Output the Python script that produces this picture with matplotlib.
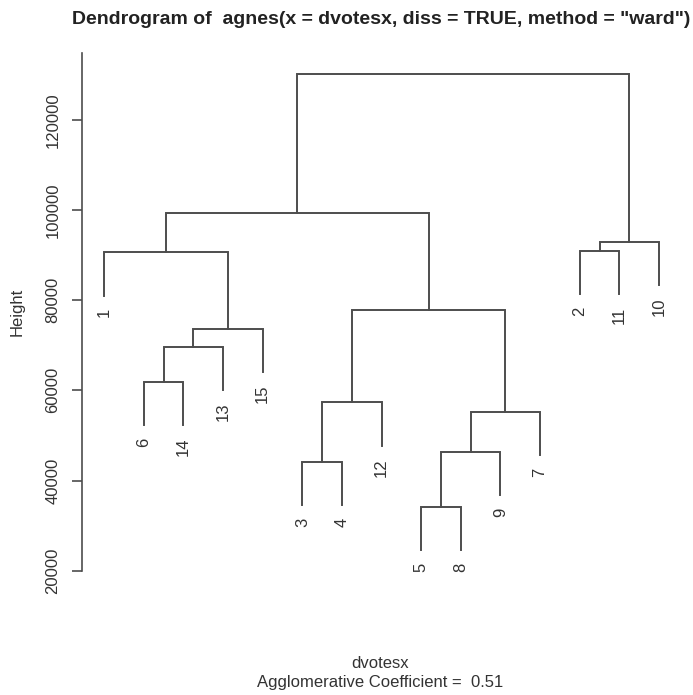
import matplotlib
matplotlib.use('Agg')
import matplotlib.pyplot as plt

plt.rcParams['font.family'] = ['Liberation Sans', 'DejaVu Sans']

# agnes merge table (R convention: negative = observation, positive = earlier merge row)
merge_left = [-5, -3, 1, 3, 2, -6, 6, 7, 5, -1, -2, 11, 10, 13]
merge_right = [-8, -4, -9, -7, -12, -14, -13, -15, 4, 8, -11, -10, 9, 12]
merge_height = [34200, 44200, 46300, 55200, 57300, 61900, 69600, 73600,
                77800, 90600, 90900, 92900, 99400, 130200]

title = 'Dendrogram of  agnes(x = dvotesx, diss = TRUE, method = "ward")'
xlab = 'dvotesx'
coef_text = 'Agglomerative Coefficient =  0.51'
yticks = [20000, 40000, 60000, 80000, 100000, 120000]

hang = 0.1 * (max(merge_height) - min(merge_height))
line_col = '#4d4d4d'

# leaf order from walking the tree left to right
def leaves(node):
    if node < 0:
        return [-node]
    return leaves(merge_left[node - 1]) + leaves(merge_right[node - 1])

order = leaves(len(merge_height))
leaf_x = {obs: i + 1 for i, obs in enumerate(order)}

fig = plt.figure(figsize=(6.93, 6.95), dpi=100)
ax = fig.add_axes([82 / 693, 1 - 570.7 / 695, (681.2 - 82) / 693, (570.7 - 53) / 695])

node_x = {}

def child_pos(node, parent_h):
    if node < 0:
        x = leaf_x[-node]
        y = parent_h - hang
        ax.annotate(str(-node), xy=(x, y), xytext=(0, -9), textcoords='offset points',
                    rotation=90, ha='center', va='top', fontsize=12, color='#333333')
        return x, y
    return node_x[node], merge_height[node - 1]

for k in range(len(merge_height)):
    h = merge_height[k]
    xl, yl = child_pos(merge_left[k], h)
    xr, yr = child_pos(merge_right[k], h)
    ax.plot([xl, xl, xr, xr], [yl, h, h, yr], color=line_col, lw=1.4,
            solid_joinstyle='miter')
    node_x[k + 1] = (xl + xr) / 2

ax.set_xlim(0.44, 15.56)
ax.set_ylim(20000, 134800)

for s in ['top', 'right', 'bottom']:
    ax.spines[s].set_visible(False)
ax.spines['left'].set_color(line_col)
ax.spines['left'].set_linewidth(1.2)
ax.set_xticks([])
ax.set_yticks(yticks)
ax.set_yticklabels([str(t) for t in yticks], rotation=90, va='center',
                   fontsize=12, color='#333333')
ax.tick_params(axis='y', length=7.5, width=1.2, color=line_col, pad=8)

fig.text(17 / 693, 1 - 312 / 695, 'Height', rotation=90, ha='center', va='center',
         fontsize=12, color='#333333')
fig.text(381.5 / 693, 1 - 19 / 695, title, ha='center', va='center',
         fontsize=14, fontweight='bold', color='#222222')
fig.text(380 / 693, 1 - 663 / 695, xlab, ha='center', va='center',
         fontsize=12, color='#333333')
fig.text(380 / 693, 1 - 682 / 695, coef_text, ha='center', va='center',
         fontsize=12, color='#333333')

fig.savefig('out.png', dpi=100, facecolor='white')
